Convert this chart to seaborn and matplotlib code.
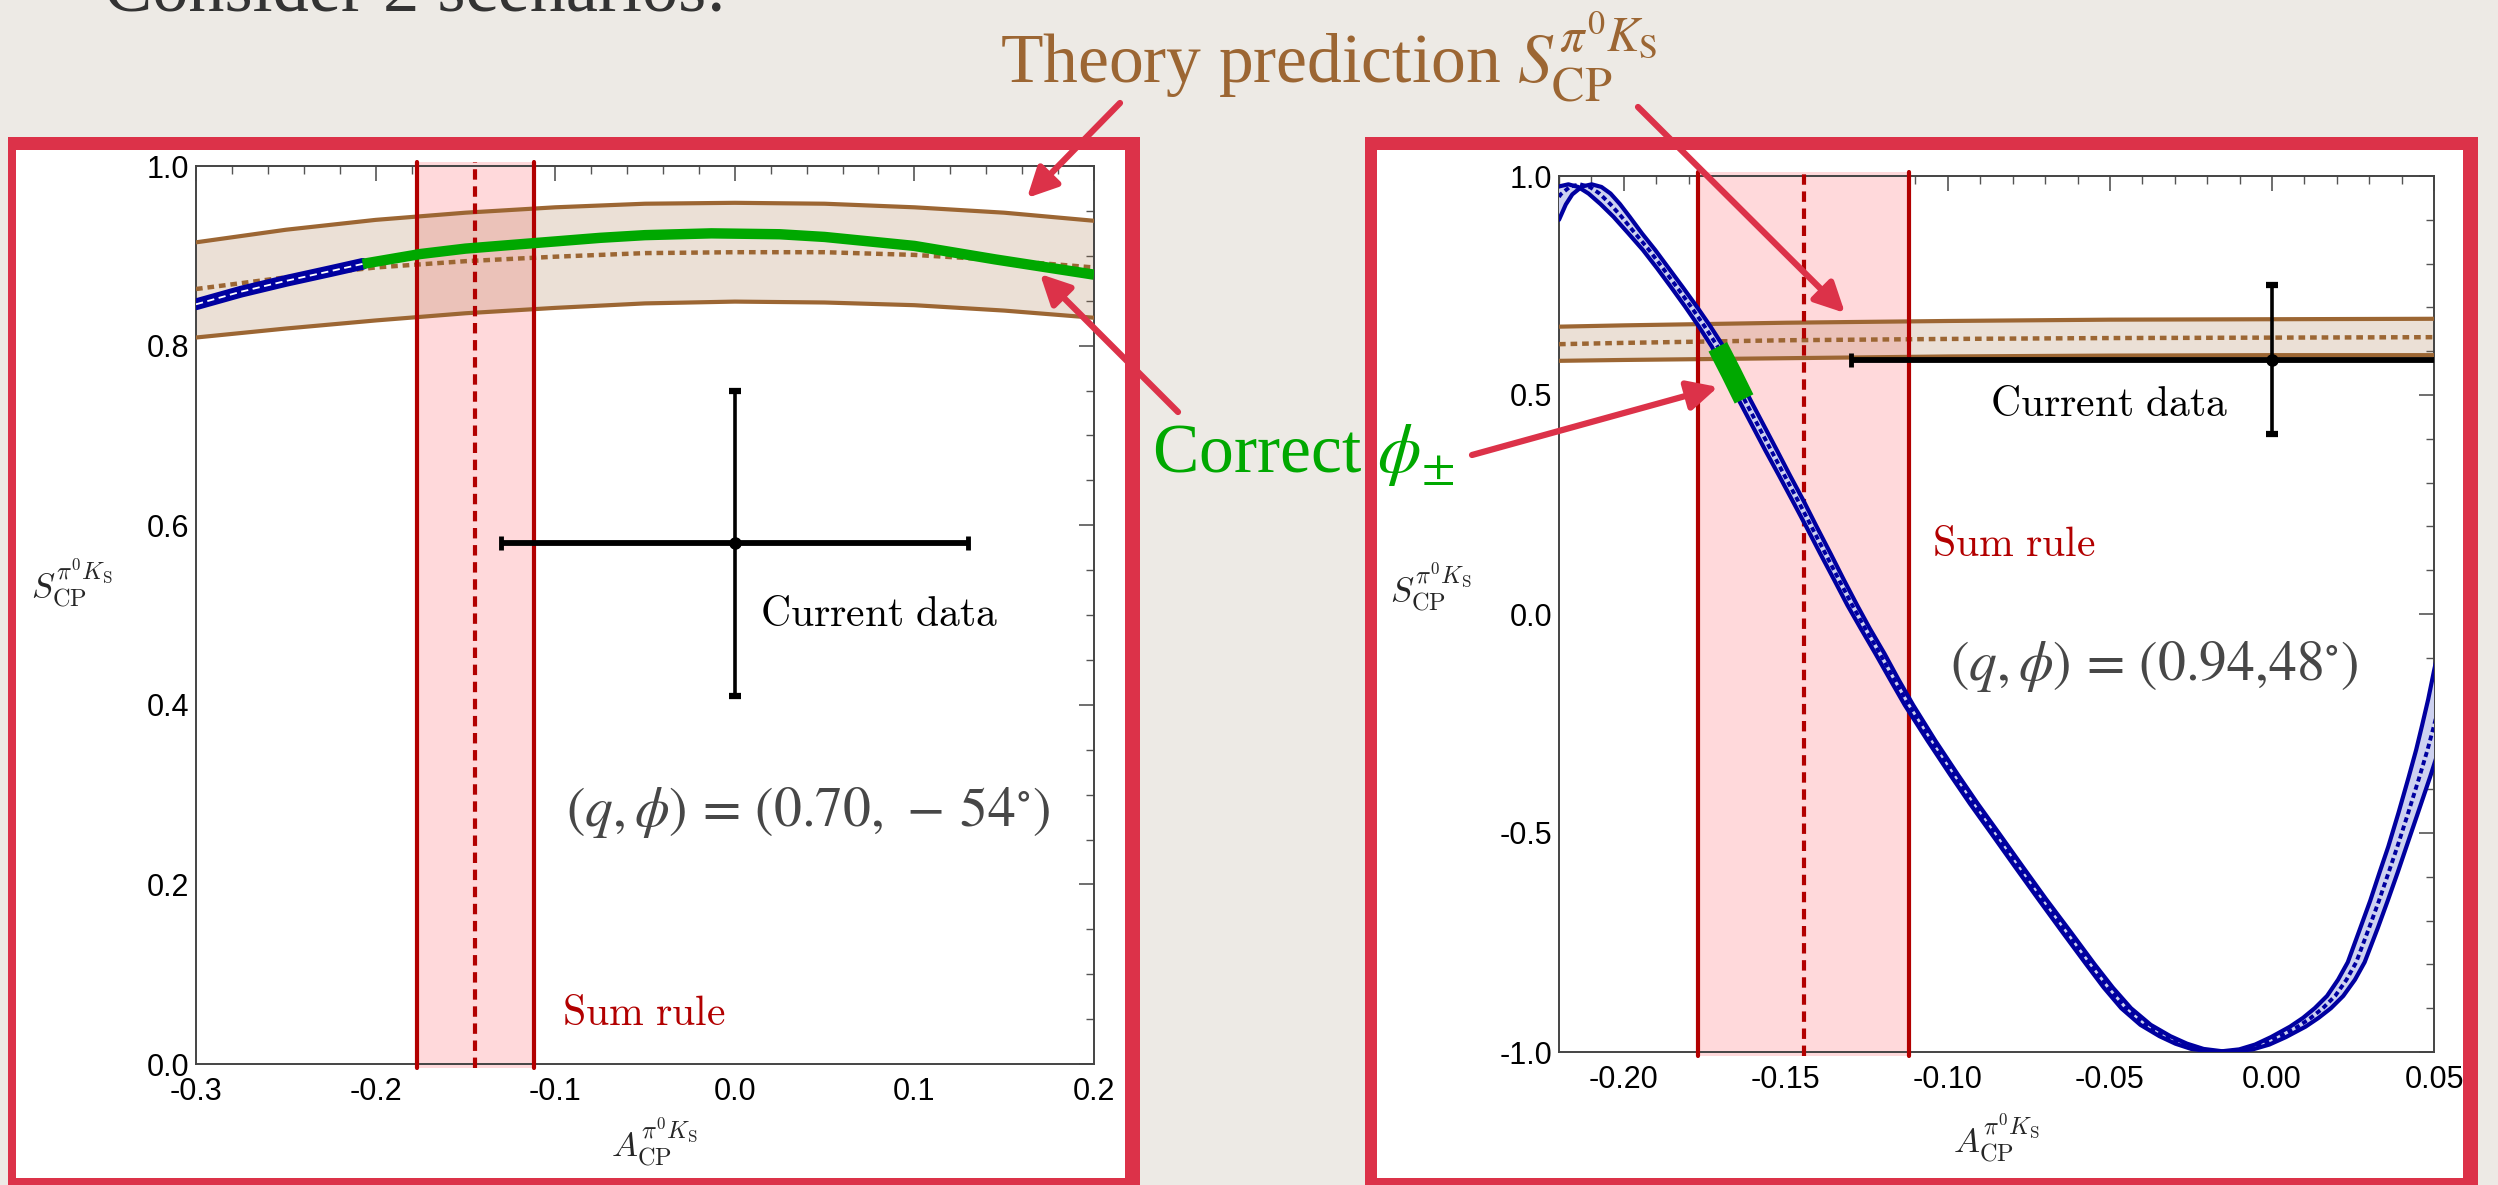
import numpy as np
import matplotlib
matplotlib.use("Agg")
import matplotlib.pyplot as plt
import seaborn as sns
from matplotlib.patches import Rectangle, FancyArrowPatch
from matplotlib.ticker import MultipleLocator

# ---------------- data ----------------
# sum-rule prediction for A_CP (band edges and central value)
sum_rule_lo, sum_rule_mid, sum_rule_hi = -0.177, -0.1445, -0.112
# current measurement
data_A, data_A_err = 0.0, 0.13
data_S, data_S_err = 0.58, 0.17

# scenario 1: (q, phi) = (0.70, -54 deg)
left_band_A = [-0.30, -0.25, -0.20, -0.15, -0.10, -0.05, 0.00, 0.05, 0.10, 0.15, 0.20]
left_band_hi = [0.915, 0.929, 0.940, 0.948, 0.954, 0.958, 0.959, 0.958, 0.954, 0.948, 0.939]
left_band_mid = [0.863, 0.876, 0.887, 0.894, 0.899, 0.903, 0.904, 0.904, 0.901, 0.895, 0.887]
left_band_lo = [0.809, 0.819, 0.828, 0.836, 0.842, 0.847, 0.849, 0.848, 0.845, 0.839, 0.831]
left_blue_A = [-0.300, -0.275, -0.250, -0.225, -0.2072]
left_blue_S = [0.846, 0.860, 0.872, 0.883, 0.891]
left_green_A = [-0.2072, -0.175, -0.150, -0.125, -0.100, -0.075, -0.050, -0.013,
                0.025, 0.050, 0.100, 0.145, 0.200]
left_green_S = [0.891, 0.902, 0.908, 0.912, 0.916, 0.920, 0.923, 0.925,
                0.924, 0.921, 0.911, 0.896, 0.879]

# scenario 2: (q, phi) = (0.94, 48 deg)
right_band_A = [-0.22, -0.20, -0.15, -0.10, -0.05, 0.00, 0.05]
right_band_hi = [0.656, 0.659, 0.665, 0.669, 0.672, 0.673, 0.674]
right_band_mid = [0.616, 0.619, 0.625, 0.628, 0.630, 0.631, 0.632]
right_band_lo = [0.578, 0.580, 0.584, 0.588, 0.590, 0.591, 0.591]
right_curve_A = [-0.2236, -0.2215, -0.2195, -0.2165, -0.2135, -0.2105, -0.2075, -0.2042,
                 -0.2007, -0.1965, -0.1922, -0.1879, -0.1836, -0.1793, -0.1751, -0.1710,
                 -0.1669, -0.1629, -0.1587, -0.1545, -0.1504, -0.1462, -0.1420, -0.1378,
                 -0.1336, -0.1295, -0.1255, -0.1210, -0.1165, -0.1120, -0.1050, -0.0980,
                 -0.0920, -0.0855, -0.0780, -0.0710, -0.0635, -0.0560, -0.0505, -0.0450,
                 -0.0390, -0.0330, -0.0280, -0.0230, -0.0155, -0.0080, -0.0030, 0.0020,
                 0.0080, 0.0120, 0.0157, 0.0195, 0.0230, 0.0260, 0.0300, 0.0330,
                 0.0360, 0.0387, 0.0420, 0.0455, 0.0480, 0.0500, 0.0520, 0.0540, 0.0560]
right_curve_S = [0.900, 0.935, 0.958, 0.976, 0.981, 0.975, 0.960, 0.936,
                 0.907, 0.869, 0.831, 0.789, 0.746, 0.702, 0.657, 0.610,
                 0.551, 0.491, 0.432, 0.373, 0.316, 0.258, 0.198, 0.138,
                 0.078, 0.020, -0.033, -0.090, -0.150, -0.208, -0.290, -0.368,
                 -0.433, -0.500, -0.578, -0.650, -0.725, -0.800, -0.853, -0.900,
                 -0.938, -0.964, -0.981, -0.993, -1.000, -0.994, -0.983, -0.966,
                 -0.942, -0.922, -0.900, -0.872, -0.835, -0.795, -0.716, -0.655,
                 -0.590, -0.531, -0.455, -0.372, -0.310, -0.255, -0.195, -0.130, -0.062]
right_curve_halfwidth = [0.0036, 0.0036, 0.0036, 0.0036, 0.0036, 0.0036, 0.0034, 0.0030,
                         0.0025, 0.0021, 0.0019, 0.0018, 0.0018, 0.0018, 0.0018, 0.0018,
                         0.0018, 0.0018, 0.0018, 0.0018, 0.0017, 0.0017, 0.0016, 0.0016,
                         0.0015, 0.0015, 0.0014, 0.0014, 0.0013, 0.0013, 0.0012, 0.0012,
                         0.0012, 0.0012, 0.0012, 0.0012, 0.0013, 0.0013, 0.0014, 0.0015,
                         0.0016, 0.0017, 0.0018, 0.0019, 0.0020, 0.0021, 0.0022, 0.0023,
                         0.0024, 0.0024, 0.0025, 0.0025, 0.0026, 0.0026, 0.0027, 0.0027,
                         0.0028, 0.0028, 0.0030, 0.0033, 0.0035, 0.0037, 0.0038, 0.0040, 0.0040]
right_green_A = [-0.1710, -0.1669, -0.1629]
right_green_S = [0.610, 0.551, 0.491]

left_xticks = [-0.3, -0.2, -0.1, 0.0, 0.1, 0.2]
left_xlabels = ["-0.3", "-0.2", "-0.1", "0.0", "0.1", "0.2"]
left_yticks = [0.0, 0.2, 0.4, 0.6, 0.8, 1.0]
left_ylabels = ["0.0", "0.2", "0.4", "0.6", "0.8", "1.0"]
right_xticks = [-0.20, -0.15, -0.10, -0.05, 0.00, 0.05]
right_xlabels = ["-0.20", "-0.15", "-0.10", "-0.05", "0.00", "0.05"]
right_yticks = [-1.0, -0.5, 0.0, 0.5, 1.0]
right_ylabels = ["-1.0", "-0.5", "0.0", "0.5", "1.0"]

# ---------------- style ----------------
W, H, DPI = 2498, 1185, 100
sns.set_theme(style="white")
plt.rcParams.update({
    "font.family": ["Liberation Sans", "DejaVu Sans"],
    "mathtext.fontset": "cm",
    "axes.unicode_minus": False,
})

PAPER = "#EDEAE5"
FRAME = "#DC3249"
BROWN = "#9C6633"
BLUE = "#0000A0"
BLUE_FILL = "#CDD1F0"
GREEN = "#00A800"
SUMRED = "#B20000"
PINK = "#FFD9DB"
ARROW = "#DC3249"

fig = plt.figure(figsize=(W / DPI, H / DPI), dpi=DPI)
fig.patch.set_facecolor(PAPER)


def frac_rect(x0, y0, x1, y1):
    return [x0 / W, 1 - y1 / H, (x1 - x0) / W, (y1 - y0) / H]


def fig_pt(x, y):
    return (x / W, 1 - y / H)


# slide cards with a red painted frame
for outer, inner in [((8, 137, 1140, 1190), (16, 150, 1125, 1178)),
                     ((1365, 137, 2478, 1190), (1377, 150, 2463, 1178))]:
    ox0, oy0, ox1, oy1 = outer
    fig.add_artist(Rectangle(fig_pt(ox0, oy1), (ox1 - ox0) / W, (oy1 - oy0) / H,
                             transform=fig.transFigure, facecolor=FRAME,
                             edgecolor="none", zorder=-5))
    ix0, iy0, ix1, iy1 = inner
    fig.add_artist(Rectangle(fig_pt(ix0, iy1), (ix1 - ix0) / W, (iy1 - iy0) / H,
                             transform=fig.transFigure, facecolor="white",
                             edgecolor="none", zorder=-4))

axL = fig.add_axes(frac_rect(196, 166, 1094, 1064))
axR = fig.add_axes(frac_rect(1559, 176, 2434, 1052))


def style_axes(ax, xlim, ylim, xt, xl, yt, yl, xminor, yminor):
    ax.set_xlim(*xlim)
    ax.set_ylim(*ylim)
    ax.set_facecolor("white")
    ax.set_xticks(xt, xl)
    ax.set_yticks(yt, yl)
    ax.xaxis.set_minor_locator(MultipleLocator(xminor))
    ax.yaxis.set_minor_locator(MultipleLocator(yminor))
    ax.tick_params(which="both", direction="in", top=True, right=True,
                   labeltop=False, labelright=False, color="#555555",
                   labelcolor="black", labelsize=22)
    ax.tick_params(which="major", length=11, width=1.2)
    ax.tick_params(which="minor", length=6, width=1.0)
    ax.tick_params(axis="x", which="both", pad=9)
    ax.tick_params(axis="y", which="both", pad=5)
    for s in ax.spines.values():
        s.set_color("#444444")
        s.set_linewidth(1.4)
    ax.set_xlabel("")
    ax.set_ylabel("")


def sum_rule(ax):
    ax.axvspan(sum_rule_lo, sum_rule_hi, ymin=-0.004, ymax=1.004, color=PINK,
               lw=0, zorder=1, clip_on=False)
    for xv in (sum_rule_lo, sum_rule_hi):
        ax.axvline(xv, ymin=-0.004, ymax=1.004, color=SUMRED, lw=3, zorder=4,
                   clip_on=False)
    ax.axvline(sum_rule_mid, ymin=-0.004, ymax=1.004, color=SUMRED, lw=3,
               linestyle=(0, (2.5, 1.6)), zorder=4, clip_on=False)


def theory_band(ax, A, lo, mid, hi):
    ax.fill_between(A, lo, hi, color=BROWN, alpha=0.2, lw=0, zorder=2)
    for y in (lo, hi):
        sns.lineplot(x=A, y=y, ax=ax, color=BROWN, lw=3, sort=False,
                     estimator=None, zorder=3)
    sns.lineplot(x=A, y=mid, ax=ax, color=BROWN, lw=3.2, sort=False,
                 estimator=None, linestyle=(0, (1.5, 1.1)), zorder=3)


def measurement(ax):
    ax.errorbar(data_A, data_S, xerr=data_A_err, fmt="none", ecolor="black",
                elinewidth=4.2, capsize=5, capthick=3.5, zorder=7)
    ax.errorbar(data_A, data_S, yerr=data_S_err, fmt="o", color="black", ms=8,
                elinewidth=2.6, capsize=4, capthick=4.5, zorder=7)


S_LABEL = r"$S_{\mathrm{CP}}^{\pi^0 K_{\mathrm{S}}}$"
A_LABEL = r"$A_{\mathrm{CP}}^{\pi^0 K_{\mathrm{S}}}$"

# ---------- left scenario ----------
style_axes(axL, (-0.3, 0.2), (0.0, 1.0), left_xticks, left_xlabels,
           left_yticks, left_ylabels, 0.02, 0.05)
sum_rule(axL)
theory_band(axL, left_band_A, left_band_lo, left_band_mid, left_band_hi)
sns.lineplot(x=left_blue_A, y=left_blue_S, ax=axL, color=BLUE, lw=8.5,
             sort=False, estimator=None, zorder=5)
sns.lineplot(x=left_blue_A, y=left_blue_S, ax=axL, color="white", lw=1.3,
             sort=False, estimator=None, linestyle=(0, (4, 2.5)), zorder=5)
sns.lineplot(x=left_green_A, y=left_green_S, ax=axL, color=GREEN, lw=7.5,
             sort=False, estimator=None, zorder=6)
axL.lines[-1].set_solid_capstyle("butt")
measurement(axL)

axL.text(0.014, 0.50, r"$\mathrm{Current\ data}$", fontsize=30, color="black",
         ha="left", va="center", zorder=8)
axL.text(-0.096, 0.056, r"$\mathrm{Sum\ rule}$", fontsize=30, color=SUMRED,
         ha="left", va="center", zorder=8)
axL.text(-0.094, 0.28, r"$(q,\phi)\,=\,(0.70,\,-\,54^{\circ})$", fontsize=40,
         color="#474747", ha="left", va="center", math_fontfamily="stix", zorder=8)
axL.text(-0.138, 0.535, S_LABEL, fontsize=25, transform=axL.transAxes,
         ha="center", va="center")
axL.text(0.51, -0.087, A_LABEL, fontsize=25, transform=axL.transAxes,
         ha="center", va="center")

# ---------- right scenario ----------
style_axes(axR, (-0.22, 0.05), (-1.0, 1.0), right_xticks, right_xlabels,
           right_yticks, right_ylabels, 0.01, 0.1)
sum_rule(axR)
theory_band(axR, right_band_A, right_band_lo, right_band_mid, right_band_hi)

cA = np.asarray(right_curve_A)
cS = np.asarray(right_curve_S)
hw = np.asarray(right_curve_halfwidth)
edge_l = cA - hw
edge_r = cA + hw
axR.fill(np.concatenate([edge_l, edge_r[::-1]]), np.concatenate([cS, cS[::-1]]),
         color=BLUE_FILL, lw=0, zorder=5)
for edge in (edge_l, edge_r):
    sns.lineplot(x=edge, y=cS, ax=axR, color=BLUE, lw=3, sort=False,
                 estimator=None, zorder=5)
sns.lineplot(x=cA, y=cS, ax=axR, color=BLUE, lw=2.8, sort=False, estimator=None,
             linestyle=(0, (1.3, 0.9)), zorder=5)
sns.lineplot(x=right_green_A, y=right_green_S, ax=axR, color=GREEN, lw=15,
             sort=False, estimator=None, zorder=6)
axR.lines[-1].set_solid_capstyle("butt")
measurement(axR)

axR.text(-0.087, 0.477, r"$\mathrm{Current\ data}$", fontsize=30, color="black",
         ha="left", va="center", zorder=8)
axR.text(-0.105, 0.158, r"$\mathrm{Sum\ rule}$", fontsize=30, color=SUMRED,
         ha="left", va="center", zorder=8)
axR.text(-0.0994, -0.121, r"$(q,\phi)\,=\,(0.94{,}48^{\circ})$", fontsize=40,
         color="#474747", ha="left", va="center", math_fontfamily="stix", zorder=8)
axR.text(-0.146, 0.53, S_LABEL, fontsize=25, transform=axR.transAxes,
         ha="center", va="center")
axR.text(0.5, -0.099, A_LABEL, fontsize=25, transform=axR.transAxes,
         ha="center", va="center")

# ---------- slide annotations ----------
serif = ["Liberation Serif", "DejaVu Serif"]
fig.text(104 / W, 1 - 12 / H, "Consider 2 scenarios:", fontsize=52,
         color="#333333", family=serif, ha="left", va="baseline")
fig.text(1000 / W, 1 - 83 / H,
         r"Theory prediction $S_{\mathrm{CP}}^{\pi^0 K_{\mathrm{S}}}$",
         fontsize=50, color=BROWN, family=serif, math_fontfamily="stix",
         ha="left", va="baseline")
fig.text(1152 / W, 1 - 472 / H, r"Correct $\phi_{\pm}$", fontsize=50,
         color=GREEN, family=serif, math_fontfamily="stix",
         ha="left", va="baseline")

for (x0, y0), (x1, y1) in [((1120, 103), (1027, 198)),
                           ((1638, 107), (1845, 313)),
                           ((1178, 412), (1040, 274)),
                           ((1472, 455), (1718, 387))]:
    fig.add_artist(FancyArrowPatch(fig_pt(x0, y0), fig_pt(x1, y1),
                                   transform=fig.transFigure,
                                   arrowstyle="-|>,head_length=0.9,head_width=0.45",
                                   mutation_scale=20, color=ARROW, lw=4.5,
                                   shrinkA=0, shrinkB=0, zorder=20))

fig.savefig("out.png", dpi=DPI, facecolor=fig.get_facecolor())
